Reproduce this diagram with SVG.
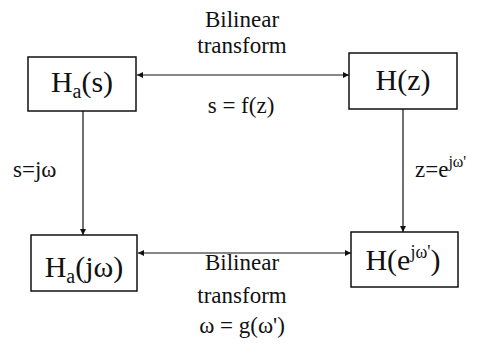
<svg xmlns="http://www.w3.org/2000/svg" width="479" height="347" viewBox="0 0 479 347">
  <defs>
    <marker id="arr" viewBox="0 0 6 6" refX="6" refY="3" markerWidth="6" markerHeight="6" markerUnits="userSpaceOnUse" orient="auto-start-reverse">
      <path d="M0,0 L6,3 L0,6 Z" fill="#111"/>
    </marker>
  </defs>
  <rect width="479" height="347" fill="#fff"/>

  <!-- connectors -->
  <g id="connectors" stroke="#111" stroke-width="1.2" fill="none">
    <line x1="137" y1="75" x2="349" y2="75" marker-start="url(#arr)" marker-end="url(#arr)"/>
    <line x1="138" y1="253" x2="351" y2="253" marker-start="url(#arr)" marker-end="url(#arr)"/>
    <line x1="83" y1="111" x2="83" y2="235" marker-end="url(#arr)"/>
    <line x1="403" y1="109" x2="403" y2="232" marker-end="url(#arr)"/>
  </g>
  <g id="edge-labels">
    <text font-family="Liberation Serif" font-size="23" fill="#111" x="242" y="27" text-anchor="middle">Bilinear</text>
    <text font-family="Liberation Serif" font-size="23" fill="#111" x="242" y="53" text-anchor="middle">transform</text>
    <text font-family="Liberation Serif" font-size="23" fill="#111" x="241" y="113" text-anchor="middle">s = f(z)</text>
    <text font-family="Liberation Serif" font-size="23" fill="#111" x="13" y="177">s=jω</text>
    <text font-family="Liberation Serif" font-size="23" fill="#111" x="415" y="177">z=e<tspan font-size="16" dy="-10">jω'</tspan></text>
    <text font-family="Liberation Serif" font-size="23" fill="#111" x="242" y="270" text-anchor="middle">Bilinear</text>
    <text font-family="Liberation Serif" font-size="23" fill="#111" x="242" y="303" text-anchor="middle">transform</text>
    <text font-family="Liberation Serif" font-size="23" fill="#111" x="242" y="333" text-anchor="middle">ω = g(ω')</text>
  </g>

  <!-- nodes -->
  <g id="node-ha-s">
    <rect x="28" y="57" width="108" height="54" fill="#fff" stroke="#111" stroke-width="1.5"/>
    <text font-family="Liberation Serif" font-size="30" fill="#111" x="82" y="92" text-anchor="middle">H<tspan font-size="20" dy="6">a</tspan><tspan dy="-6">(s)</tspan></text>
  </g>
  <g id="node-h-z">
    <rect x="349" y="53" width="108" height="56" fill="#fff" stroke="#111" stroke-width="1.5"/>
    <text font-family="Liberation Serif" font-size="30" fill="#111" x="403" y="90" text-anchor="middle">H(z)</text>
  </g>
  <g id="node-ha-jw">
    <rect x="31" y="235" width="106" height="56" fill="#fff" stroke="#111" stroke-width="1.5"/>
    <text font-family="Liberation Serif" font-size="30" fill="#111" x="84" y="277" text-anchor="middle">H<tspan font-size="20" dy="6">a</tspan><tspan dy="-6">(jω)</tspan></text>
  </g>
  <g id="node-h-ejw">
    <rect x="351" y="232" width="107" height="55" fill="#fff" stroke="#111" stroke-width="1.5"/>
    <text font-family="Liberation Serif" font-size="30" fill="#111" x="403" y="270" text-anchor="middle">H(e<tspan font-size="18" dy="-12">jω'</tspan><tspan dy="12">)</tspan></text>
  </g>
</svg>
